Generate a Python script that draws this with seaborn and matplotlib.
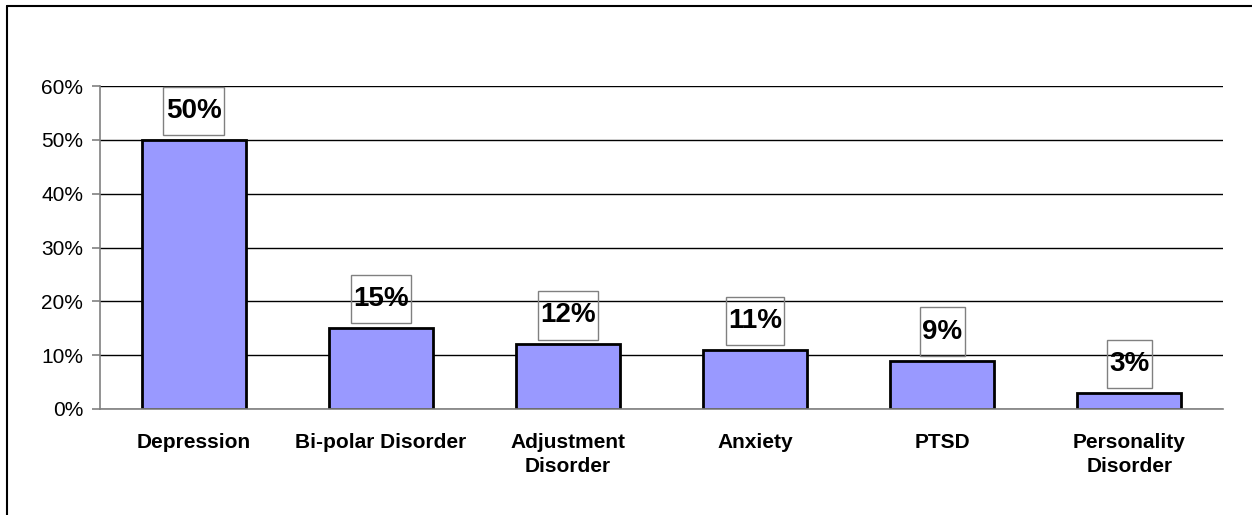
import pandas as pd
import matplotlib
matplotlib.use("Agg")
import matplotlib.pyplot as plt
import seaborn as sns
from matplotlib.lines import Line2D
from matplotlib.path import Path
from matplotlib.ticker import MultipleLocator, PercentFormatter

# Data
categories = ["Depression", "Bi-polar Disorder", "Adjustment\nDisorder",
              "Anxiety", "PTSD", "Personality\nDisorder"]
shares = [50, 15, 12, 11, 9, 3]
value_labels = ["50%", "15%", "12%", "11%", "9%", "3%"]

df = pd.DataFrame({"Disorder": categories, "Share": shares})

sns.set_style("white")
plt.rcParams['font.family'] = ['Liberation Sans', 'DejaVu Sans']
plt.rcParams['text.color'] = 'black'


def tall_box(x0, y0, width, height, mutation_size):
    # square box, narrower padding left/right than top/bottom
    px = 0.08 * mutation_size
    py = 0.40 * mutation_size
    x0, y0 = x0 - px, y0 - py
    x1, y1 = x0 + width + 2 * px, y0 + height + 2 * py
    return Path([(x0, y0), (x1, y0), (x1, y1), (x0, y1), (x0, y0)], closed=True)


fig = plt.figure(figsize=(12.52, 5.15), dpi=100)
ax = fig.add_axes([100 / 1252, 1 - 409 / 515, 1123 / 1252, 323 / 515])

sns.barplot(data=df, x="Disorder", y="Share", color="#9999FF",
            edgecolor="black", linewidth=2, width=0.555, saturation=1, ax=ax)

ax.set_ylim(0, 60)
ax.set_xlim(-0.5, len(categories) - 0.5)
ax.yaxis.set_major_locator(MultipleLocator(10))
ax.yaxis.set_major_formatter(PercentFormatter(decimals=0))
ax.grid(axis="y", color="black", linewidth=1)
ax.set_axisbelow(True)
ax.set_xlabel("")
ax.set_ylabel("")

for s in ["top", "right"]:
    ax.spines[s].set_visible(False)
for s in ["left", "bottom"]:
    ax.spines[s].set_color("#808080")
    ax.spines[s].set_linewidth(1.2)

# category ticks sit between the bars
ax.set_xticks([i - 0.5 for i in range(len(categories) + 1)], minor=True)
ax.tick_params(axis="x", which="minor", length=6, color="#808080", width=1.2)
ax.tick_params(axis="x", which="major", length=0, pad=17, labelcolor="black")
ax.tick_params(axis="y", length=6, color="#808080", width=1.2, left=True,
               labelsize=15, labelcolor="black", pad=6)
for lab in ax.get_xticklabels():
    lab.set_fontweight("bold")
    lab.set_fontsize(15)
    lab.set_verticalalignment("top")
    lab.set_linespacing(1.35)

# boxed value labels above the bars
for i, (v, txt) in enumerate(zip(shares, value_labels)):
    ax.annotate(txt, xy=(i, v), xytext=(0, 11.5), textcoords="offset points",
                ha="center", va="bottom", fontsize=20, fontweight="bold",
                bbox=dict(boxstyle=tall_box, facecolor="none",
                          edgecolor="#808080", linewidth=1))

# outer frame (only top and left edges show in the picture)
fig.add_artist(Line2D([7 / 1252, 7 / 1252], [-0.1, 1 - 6 / 515], color="black", linewidth=1.5))
fig.add_artist(Line2D([7 / 1252, 1.1], [1 - 6 / 515, 1 - 6 / 515], color="black", linewidth=1.5))

fig.savefig("out.png", dpi=100)
